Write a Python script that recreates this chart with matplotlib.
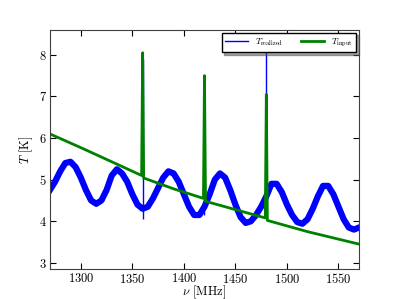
import numpy as np
import matplotlib
matplotlib.use('Agg')
import matplotlib.pyplot as plt

plt.rcParams['font.family'] = 'serif'
plt.rcParams['font.serif'] = ['cmr10']
plt.rcParams['mathtext.fontset'] = 'cm'
plt.rcParams['axes.formatter.use_mathtext'] = True

# smooth part of the realized spectrum (read every 5 MHz)
freq_real = [1270, 1275, 1280, 1285, 1290, 1295, 1300, 1305, 1310, 1315,
             1320, 1325, 1330, 1335, 1340, 1345, 1350, 1355, 1360, 1365,
             1370, 1375, 1380, 1385, 1390, 1395, 1400, 1405, 1410, 1415,
             1420, 1425, 1430, 1435, 1440, 1445, 1450, 1455, 1460, 1465,
             1470, 1475, 1480, 1485, 1490, 1495, 1500, 1505, 1510, 1515,
             1520, 1525, 1530, 1535, 1540, 1545, 1550, 1555, 1560, 1565, 1570]
T_real = [4.75, 4.95, 5.2, 5.4, 5.43, 5.3, 5.05, 4.75, 4.5, 4.42,
          4.5, 4.75, 5.1, 5.25, 5.15, 4.95, 4.65, 4.4, 4.3, 4.35,
          4.55, 4.8, 5.05, 5.2, 5.15, 4.95, 4.65, 4.35, 4.15, 4.15,
          4.35, 4.65, 5.0, 5.15, 5.05, 4.75, 4.4, 4.1, 3.96, 4.0,
          4.15, 4.35, 4.6, 4.9, 4.9, 4.7, 4.4, 4.15, 3.98, 3.94,
          4.05, 4.3, 4.6, 4.85, 4.85, 4.65, 4.35, 4.05, 3.85, 3.8, 3.85]

# narrow lines in the realized spectrum
spike_freq = [1360, 1420, 1480]
spike_top = [7.9, 7.4, 8.15]
spike_bottom = [4.05, 4.15, 4.4]

# input spectrum
freq_in = [1270, 1300, 1330, 1359, 1360, 1361, 1390, 1419, 1420, 1421,
           1450, 1479, 1480, 1481, 1520, 1570]
T_in = [6.1, 5.77, 5.43, 5.1, 8.05, 5.04, 4.78, 4.55, 7.5, 4.48,
        4.28, 4.08, 7.05, 4.02, 3.75, 3.45]

fig = plt.figure(figsize=(3.99, 2.99), dpi=100)
ax = fig.add_axes([0.125, 0.1, 0.775, 0.8])

# noise band drawn as a thick line
ax.plot(freq_real, T_real, color='b', lw=4.5, solid_joinstyle='round')
ax.vlines(spike_freq, spike_bottom, spike_top, color='b', lw=1)
ax.plot(freq_in, T_in, color='g', lw=2)

ax.set_xlim(1270, 1570)
ax.set_ylim(2.85, 8.6)
ax.set_xticks([1300, 1350, 1400, 1450, 1500, 1550])
ax.set_yticks([3, 4, 5, 6, 7, 8])
ax.tick_params(direction='in', top=True, right=True, labelsize=9,
               length=4, pad=2)
for s in ax.spines.values():
    s.set_color('0.25')
ax.set_xlabel(r'$\nu$ [MHz]', fontsize=9)
ax.xaxis.set_label_coords(0.5, -0.058)
ax.set_ylabel(r'$T$ [K]', fontsize=9, labelpad=3)

h1 = plt.Line2D([], [], color='b', lw=1)
h2 = plt.Line2D([], [], color='g', lw=2)
leg = ax.legend([h1, h2], [r'$T_{\rm realized}$', r'$T_{\rm input}$'],
                loc='upper right', ncol=2, fontsize=6.5, shadow=True,
                fancybox=False, framealpha=1, borderaxespad=0.3,
                handlelength=2.5, columnspacing=2.0)
leg.get_frame().set_edgecolor('k')

fig.savefig('out.png', dpi=100)
